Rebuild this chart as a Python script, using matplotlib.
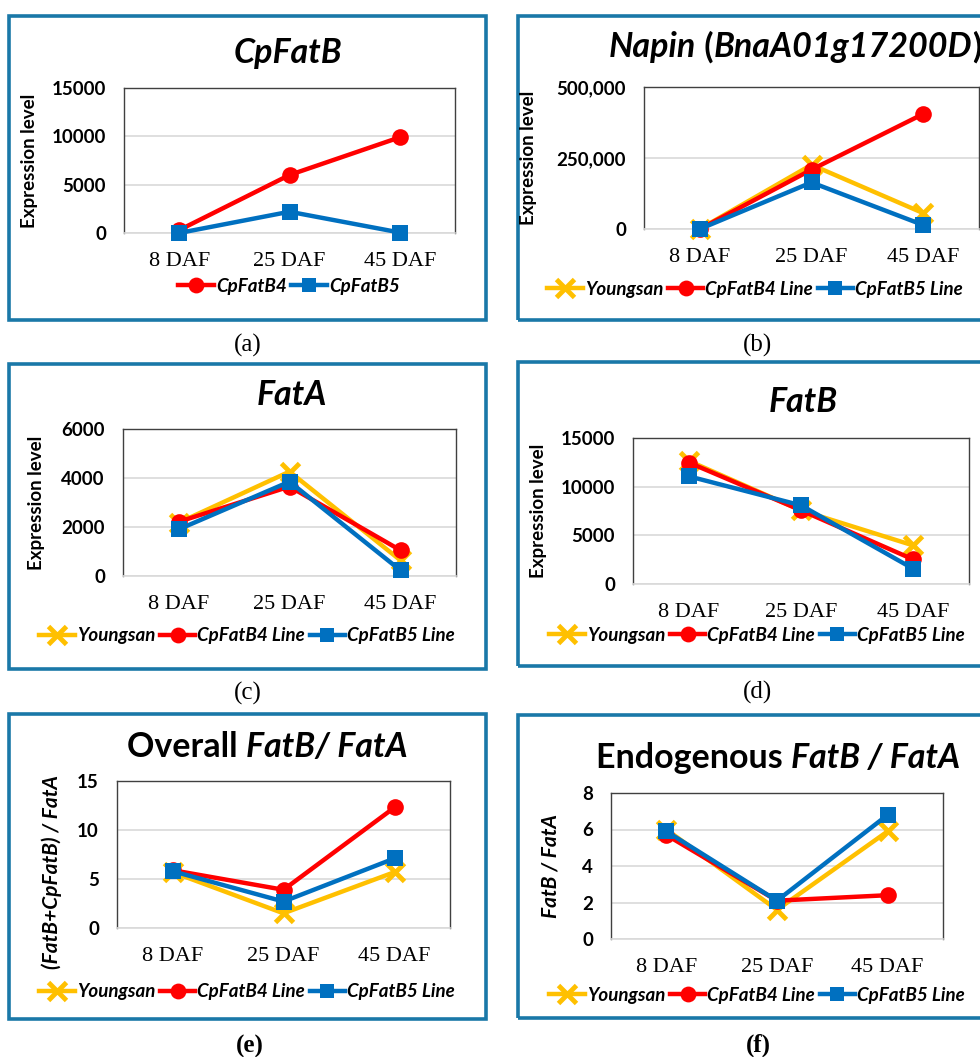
import matplotlib
matplotlib.use('Agg')
import matplotlib.pyplot as plt
from matplotlib.patches import Rectangle
from matplotlib.lines import Line2D
from matplotlib.ticker import FuncFormatter

days = ['8 DAF', '25 DAF', '45 DAF']

# (a) CpFatB
cpfatb_b4 = [300, 6000, 9900]
cpfatb_b5 = [0, 2200, 50]

# (b) Napin
napin_youngsan = [0, 226000, 56000]
napin_b4 = [0, 209000, 405000]
napin_b5 = [0, 164000, 14000]

# (c) FatA
fata_youngsan = [2170, 4260, 640]
fata_b4 = [2210, 3650, 1050]
fata_b5 = [1900, 3850, 230]

# (d) FatB
fatb_youngsan = [12640, 7570, 3970]
fatb_b4 = [12470, 7570, 2530]
fatb_b5 = [11060, 8080, 1580]

# (e) overall FatB / FatA
overall_youngsan = [5.7, 1.5, 5.7]
overall_b4 = [5.9, 3.9, 12.3]
overall_b5 = [5.8, 2.7, 7.1]

# (f) endogenous FatB / FatA
endo_youngsan = [6.0, 1.6, 5.9]
endo_b4 = [5.7, 2.1, 2.4]
endo_b5 = [5.9, 2.1, 6.8]

W, H = 980, 1057
SANS = 'Lato'
SERIF = 'Liberation Serif'
YEL, RED, BLU = '#FFC000', '#FF0000', '#0070C0'
FRAME = '#1A78A8'

styles = {
    'Youngsan': dict(color=YEL, marker='x', ms=13, mew=3.5),
    'CpFatB4': dict(color=RED, marker='o', ms=12, mew=0),
    'CpFatB5': dict(color=BLU, marker='s', ms=11, mew=0),
}

fig = plt.figure(figsize=(W / 100, H / 100), dpi=100)


def fx(x):
    return x / W


def fy(y):
    return 1 - y / H


def make_ax(box):
    l, t, r, b = box
    return fig.add_axes([fx(l), fy(b), (r - l) / W, (b - t) / H])


def frame(box):
    l, t, r, b = box
    fig.add_artist(Rectangle((fx(l), fy(b)), (r - l) / W, (b - t) / H,
                             transform=fig.transFigure, fill=False,
                             ec=FRAME, lw=2.6, zorder=0))


def title(segments, cx, cy, size=24.5):
    texts = []
    for s, it in segments:
        texts.append(fig.text(0, fy(cy), s, fontsize=size, family=SANS,
                              weight='bold', style='italic' if it else 'normal',
                              ha='left', va='center'))
    fig.canvas.draw()
    r = fig.canvas.get_renderer()
    widths = [t.get_window_extent(r).width for t in texts]
    x = cx - sum(widths) / 2
    for t, w in zip(texts, widths):
        t.set_x(fx(x))
        x += w


def panel(box, axbox, series, ymax, ystep, ylabel, ylab_x, leg_xy,
          title_segs, title_xy, cap, cap_xy, cap_bold=False, ylabel_italic=False,
          ylabel_size=13.5, ylab_y=0.5, fmt=None):
    frame(box)
    ax = make_ax(axbox)
    x = range(len(days))
    for name, vals in series:
        st = styles[name]
        ax.plot(x, vals, lw=3.2, color=st['color'], marker=st['marker'],
                ms=st['ms'], mew=st['mew'], mec=st['color'], mfc=st['color'],
                clip_on=False, zorder=3)
    ax.set_xlim(-0.5, 2.5)
    ax.set_ylim(0, ymax)
    ax.set_yticks([i * ystep for i in range(int(round(ymax / ystep)) + 1)])
    ax.set_xticks(list(x))
    ax.set_xticklabels(days, family=SERIF, fontsize=16)
    for lbl in ax.get_yticklabels():
        lbl.set_family(SANS)
        lbl.set_fontweight('bold')
        lbl.set_fontsize(13.5)
    if fmt:
        ax.yaxis.set_major_formatter(FuncFormatter(fmt))
    ax.tick_params(axis='both', length=0)
    ax.tick_params(axis='y', pad=13)
    ax.tick_params(axis='x', pad=14)
    ax.grid(axis='y', color='#D9D9D9', lw=1.2)
    ax.set_axisbelow(True)
    for s in ['left', 'top', 'right']:
        ax.spines[s].set_color('#404040')
        ax.spines[s].set_linewidth(1.0)
    ax.spines['bottom'].set_color('#D9D9D9')
    ax.spines['bottom'].set_linewidth(1.2)
    l, t, r, b = axbox
    ax.set_ylabel(ylabel, family=SANS, weight='bold', fontsize=ylabel_size,
                  style='italic' if ylabel_italic else 'normal')
    ax.yaxis.set_label_coords((ylab_x - l) / (r - l), ylab_y)

    handles, labels = [], []
    for name, _ in series:
        st = styles[name]
        handles.append(Line2D([], [], lw=3.2, color=st['color'], marker=st['marker'],
                              ms=st['ms'] * 0.95, mew=st['mew'], mec=st['color'],
                              mfc=st['color']))
        labels.append(name if name == 'Youngsan' or len(series) == 2 else name + ' Line')
    fig.legend(handles, labels, loc='center', bbox_to_anchor=(fx(leg_xy[0]), fy(leg_xy[1])),
               ncol=len(series), frameon=False, handlelength=1.9, handletextpad=0.1,
               columnspacing=0.25, borderpad=0.2,
               prop=dict(family=SANS, weight='bold', style='italic', size=13.5))

    title(title_segs, title_xy[0], title_xy[1])
    fig.text(fx(cap_xy[0]), fy(cap_xy[1]), cap, family=SERIF, fontsize=18,
             weight='bold' if cap_bold else 'normal', ha='center', va='center')
    return ax


panel((9, 16, 486, 320), (124, 88, 455, 233),
      [('CpFatB4', cpfatb_b4), ('CpFatB5', cpfatb_b5)],
      15000, 5000, 'Expression level', 38, (289, 286),
      [('CpFatB', True)], (288, 53), '(a)', (248, 345))

panel((518, 16, 995, 320), (644, 87, 979, 229),
      [('Youngsan', napin_youngsan), ('CpFatB4', napin_b4), ('CpFatB5', napin_b5)],
      500000, 250000, 'Expression level', 537, (755, 289),
      [('Napin', True), (' (', False), ('BnaA01g17200D', True), (')', False)],
      (795, 47), '(b)', (758, 345), fmt=lambda v, p: '{:,.0f}'.format(v))

panel((9, 364, 486, 669), (123, 429, 456, 576),
      [('Youngsan', fata_youngsan), ('CpFatB4', fata_b4), ('CpFatB5', fata_b5)],
      6000, 2000, 'Expression level', 45, (247, 636),
      [('FatA', True)], (292, 395), '(c)', (248, 693))

panel((518, 362, 995, 666), (633, 438, 969, 584),
      [('Youngsan', fatb_youngsan), ('CpFatB4', fatb_b4), ('CpFatB5', fatb_b5)],
      15000, 5000, 'Expression level', 547, (757, 635),
      [('FatB', True)], (803, 402), '(d)', (758, 692))

panel((9, 714, 486, 1019), (117, 781, 450, 928),
      [('Youngsan', overall_youngsan), ('CpFatB4', overall_b4), ('CpFatB5', overall_b5)],
      15, 5, '(FatB+CpFatB) / FatA', 62, (247, 992),
      [('Overall ', False), ('FatB/ FatA', True)], (267, 747), '(e)', (250, 1046),
      cap_bold=True, ylabel_italic=True, ylabel_size=15, ylab_y=0.38)

panel((518, 715, 995, 1018), (611, 793, 943, 939),
      [('Youngsan', endo_youngsan), ('CpFatB4', endo_b4), ('CpFatB5', endo_b5)],
      8, 2, 'FatB / FatA', 560, (757, 995),
      [('Endogenous ', False), ('FatB / FatA', True)], (778, 758), '(f)', (758, 1045),
      cap_bold=True, ylabel_italic=True, ylabel_size=15)

fig.savefig('out.png', dpi=100)
